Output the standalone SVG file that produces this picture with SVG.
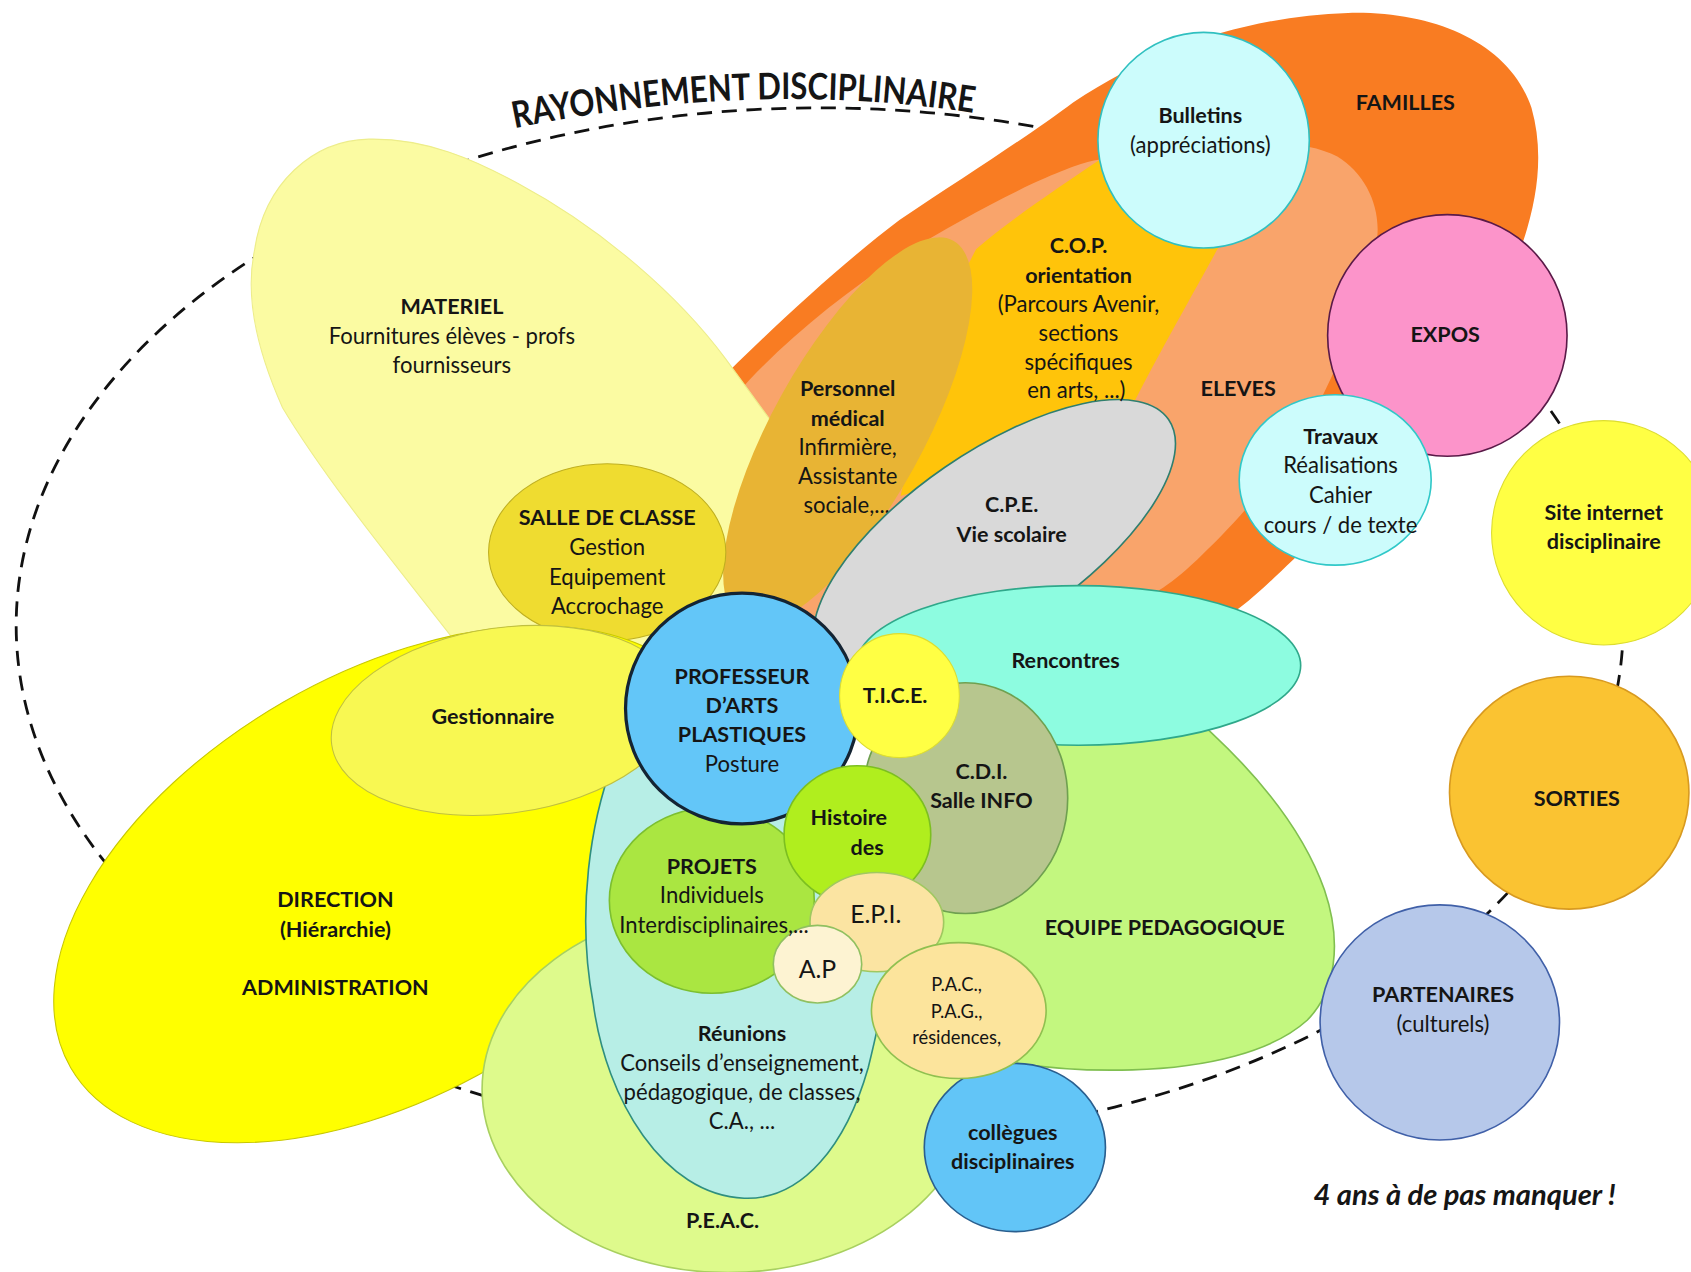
<svg xmlns="http://www.w3.org/2000/svg" width="1691" height="1272" viewBox="0 0 1691 1272">
<defs>
<style>
text{font-family:Lato,"Liberation Sans",sans-serif;fill:#151515;text-anchor:middle}
.b{font-weight:bold;font-size:20px}
.r{font-size:20.5px}
.s{font-size:17px}
.l{font-size:23px}
.t{font-weight:bold;font-size:34px;text-anchor:start}
.f{font-weight:bold;font-style:italic;font-size:27px}
.ring{fill:none;stroke:#111;stroke-width:2.6;stroke-dasharray:14 9}
</style>
<path id="arc" d="M 477,119 Q 700,73 904,105"/>
</defs>
<rect width="1691" height="1272" fill="#ffffff"/>
<g transform="scale(1.0785)">
<g id="connectors">
<ellipse class="ring" cx="760" cy="580" rx="745" ry="480"/>
</g>
<g id="title">
<text class="t" textLength="428" lengthAdjust="spacingAndGlyphs"><textPath href="#arc">RAYONNEMENT DISCIPLINAIRE</textPath></text>
</g>
<g id="familles">
<path d="M 660,360 C 720,300 780,245 834,204 C 900,160 955,125 995,95 C 1075,42 1160,15 1250,12 C 1330,10 1400,40 1420,100 C 1440,170 1410,250 1360,330 C 1340,380 1260,460 1199,519 C 1180,537 1165,552 1150,563 L 1100,600 L 700,700 Z" fill="#F97C22"/>
<text class="b" x="1303" y="102">FAMILLES</text>
</g>
<g id="eleves">
<path d="M 650,420 C 665,390 680,368 695,352 C 735,310 785,270 834,238 C 880,210 920,188 958,170 C 990,156 1005,150 1020,148 L 1120,135 C 1170,128 1215,132 1240,145 C 1265,160 1280,190 1277,220 C 1274,260 1250,320 1220,380 C 1180,450 1140,490 1110,519 C 1095,533 1085,541 1075,547 L 1050,600 L 700,700 Z" fill="#F9A46B"/>
<text class="b" x="1148" y="367">ELEVES</text>
</g>
<g id="cop">
<path d="M 1020,148 C 980,175 935,205 905,231 L 870,300 L 835,460 L 1042,392 C 1070,335 1105,275 1131,227 L 1150,140 L 1060,110 Z" fill="#FFC40A"/>
</g>
<g id="materiel">
<path d="M 342,129 C 395,128 440,148 480,170 C 560,213 630,275 673,333 L 716,392 L 705,560 L 640,610 L 470,610 L 430,605 C 380,540 305,450 262,378 C 236,320 228,270 236,232 C 245,170 290,130 342,129 Z" fill="#FBFBA2" stroke="#EDED8A" stroke-width="1"/>
<text class="b" x="419" y="291">MATERIEL</text>
<text class="r" x="419" y="319">Fournitures élèves - profs</text>
<text class="r" x="419" y="346">fournisseurs</text>
</g>
<g id="personnel">
<ellipse cx="786" cy="400" rx="202" ry="70" transform="rotate(-61 786 400)" fill="#E8B434"/>
<text class="b" x="786" y="367">Personnel</text>
<text class="b" x="786" y="395">médical</text>
<text class="r" x="786" y="422">Infirmière,</text>
<text class="r" x="786" y="449">Assistante</text>
<text class="r" x="785" y="476">sociale,...</text>
</g>
<g id="salle">
<ellipse cx="563" cy="512" rx="110" ry="82" fill="#EFDC30" stroke="#BFAF20" stroke-width="1"/>
<text class="b" x="563" y="487">SALLE DE CLASSE</text>
<text class="r" x="563" y="515">Gestion</text>
<text class="r" x="563" y="542">Equipement</text>
<text class="r" x="563" y="569">Accrochage</text>
</g>
<g id="direction">
<ellipse cx="360" cy="820" rx="340" ry="195" transform="rotate(-30 360 820)" fill="#FFFF00" stroke="#C8C800" stroke-width="1"/>
<text class="b" x="311" y="841">DIRECTION</text>
<text class="b" x="311" y="869">(Hiérarchie)</text>
<text class="b" x="311" y="923">ADMINISTRATION</text>
</g>
<g id="peac">
<ellipse cx="675" cy="1010" rx="228" ry="170" fill="#DEFA8C" stroke="#A8D060" stroke-width="1.5"/>
<text class="b" x="670" y="1139">P.E.A.C.</text>
</g>
<g id="reunions">
<path d="M 575,690 C 545,760 535,850 550,930 C 562,1020 615,1108 690,1111 C 745,1113 785,1060 805,990 C 815,950 825,900 835,845 L 760,700 Z" fill="#B7EEE6" stroke="#2F8F7F" stroke-width="1.5"/>
<text class="b" x="688" y="965">Réunions</text>
<text class="r" x="688" y="993">Conseils d’enseignement,</text>
<text class="r" x="688" y="1020">pédagogique, de classes,</text>
<text class="r" x="688" y="1047">C.A., ...</text>
</g>
<g id="gestionnaire">
<ellipse cx="468" cy="668" rx="162" ry="86" transform="rotate(-8 468 668)" fill="#F8F852" stroke="#C0C040" stroke-width="1"/>
<text class="b" x="457" y="671">Gestionnaire</text>
</g>
<g id="cpe">
<ellipse cx="922" cy="500" rx="196" ry="81" transform="rotate(-34.5 922 500)" fill="#D9D9D9" stroke="#2F7F6F" stroke-width="1.5"/>
<text class="b" x="938" y="475">C.P.E.</text>
<text class="b" x="938" y="503">Vie scolaire</text>
</g>
<g id="cop-label">
<text class="b" x="1000" y="235">C.O.P.</text>
<text class="b" x="1000" y="262">orientation</text>
<text class="r" x="1000" y="289">(Parcours Avenir,</text>
<text class="r" x="1000" y="316">sections</text>
<text class="r" x="1000" y="343">spécifiques</text>
<text class="r" x="998" y="369">en arts, ...)</text>
</g>
<g id="equipe">
<path d="M 1090,650 C 1150,700 1205,760 1228,825 C 1245,875 1238,920 1212,946 C 1180,975 1120,990 1050,992 C 980,994 920,985 870,970 L 830,880 L 880,660 Z" fill="#C3F77F" stroke="#80BF50" stroke-width="1.5"/>
<text class="b" x="1080" y="867">EQUIPE PEDAGOGIQUE</text>
</g>
<g id="rencontres">
<ellipse cx="1000" cy="617" rx="206" ry="74" fill="#8DFCE0" stroke="#2FA88A" stroke-width="1.5"/>
<text class="b" x="988" y="619">Rencontres</text>
</g>
<g id="cdi">
<ellipse cx="895" cy="740" rx="95" ry="107" fill="#B7C68E" stroke="#6FA050" stroke-width="1.5"/>
<text class="b" x="910" y="722">C.D.I.</text>
<text class="b" x="910" y="749">Salle INFO</text>
</g>
<g id="projets">
<ellipse cx="660" cy="835" rx="95" ry="86" fill="#AAE641" stroke="#7CBF30" stroke-width="1.5"/>
</g>
<g id="prof">
<ellipse cx="688" cy="657" rx="108" ry="107" fill="#63C6F8" stroke="#142433" stroke-width="3"/>
<text class="b" x="688" y="634">PROFESSEUR</text>
<text class="b" x="688" y="661">D’ARTS</text>
<text class="b" x="688" y="688">PLASTIQUES</text>
<text class="r" x="688" y="716">Posture</text>
</g>
<g id="tice">
<ellipse cx="834" cy="645" rx="55.5" ry="57.5" fill="#FFFF44" stroke="#DDDD30" stroke-width="1"/>
<text class="b" x="830" y="652">T.I.C.E.</text>
</g>
<g id="histoire">
<ellipse cx="795" cy="774" rx="68" ry="64" fill="#B0EE1E" stroke="#7CBF20" stroke-width="1.5"/>
<text class="b" x="787" y="765">Histoire</text>
<text class="b" x="804" y="793">des</text>
</g>
<g id="epi">
<ellipse cx="813" cy="855" rx="62" ry="46" fill="#FBE4A2" stroke="#A0C860" stroke-width="1.5"/>
<text class="l" x="812" y="856">E.P.I.</text>
</g>
<g id="ap">
<ellipse cx="758" cy="894" rx="41" ry="36" fill="#FDF3D2" stroke="#90C060" stroke-width="1.5"/>
<text class="l" x="758" y="907">A.P</text>
</g>
<g id="projets-label">
<text class="b" x="660" y="810">PROJETS</text>
<text class="r" x="660" y="837">Individuels</text>
<text class="r" x="662" y="865">Interdisciplinaires,...</text>
</g>
<g id="collegues">
<ellipse cx="941" cy="1064" rx="84" ry="78" fill="#62C5F7" stroke="#2A5F8F" stroke-width="1.5"/>
<text class="b" x="939" y="1057">collègues</text>
<text class="b" x="939" y="1084">disciplinaires</text>
</g>
<g id="pac">
<ellipse cx="889" cy="937" rx="81" ry="63" fill="#FCE49C" stroke="#90C050" stroke-width="1.5"/>
<text class="s" x="887" y="919">P.A.C.,</text>
<text class="s" x="887" y="944">P.A.G.,</text>
<text class="s" x="887" y="968">résidences,</text>
</g>
<g id="bulletins">
<ellipse cx="1116" cy="130" rx="98" ry="100" fill="#CCFCFC" stroke="#30C0C0" stroke-width="1.5"/>
<text class="b" x="1113" y="114">Bulletins</text>
<text class="r" x="1113" y="142">(appréciations)</text>
</g>
<g id="expos">
<ellipse cx="1342" cy="311" rx="111" ry="112" fill="#FC94CA" stroke="#5A1A48" stroke-width="1.5"/>
<text class="b" x="1340" y="317">EXPOS</text>
</g>
<g id="travaux">
<ellipse cx="1238" cy="445" rx="89" ry="79" fill="#CCFCFC" stroke="#30C8C8" stroke-width="1.5"/>
<text class="b" x="1243" y="412">Travaux</text>
<text class="r" x="1243" y="439">Réalisations</text>
<text class="r" x="1243" y="466">Cahier</text>
<text class="r" x="1243" y="494">cours / de texte</text>
</g>
<g id="site">
<ellipse cx="1487" cy="494" rx="104" ry="104" fill="#FFFF44" stroke="#DDDD30" stroke-width="1"/>
<text class="b" x="1487" y="482">Site internet</text>
<text class="b" x="1487" y="509">disciplinaire</text>
</g>
<g id="sorties">
<ellipse cx="1455" cy="735" rx="111" ry="108" fill="#FAC332" stroke="#D89A20" stroke-width="1.5"/>
<text class="b" x="1462" y="747">SORTIES</text>
</g>
<g id="partenaires">
<ellipse cx="1335" cy="948" rx="111" ry="109" fill="#B6C8EA" stroke="#4060A8" stroke-width="1.5"/>
<text class="b" x="1338" y="929">PARTENAIRES</text>
<text class="r" x="1338" y="957">(culturels)</text>
</g>
<g id="footer">
<text class="f" x="1358" y="1117">4 ans à de pas manquer !</text>
</g>
</g>
</svg>
